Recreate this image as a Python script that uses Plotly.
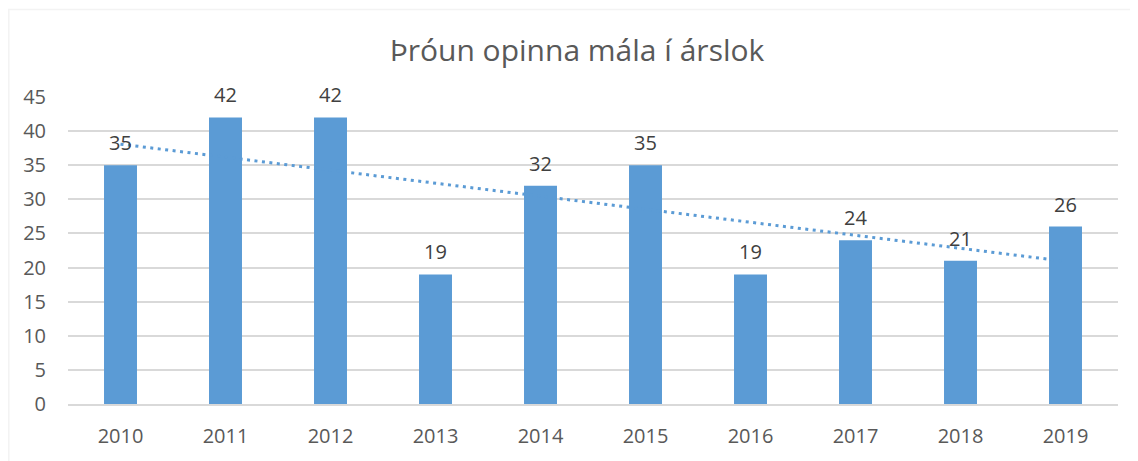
import numpy as np
import plotly.graph_objects as go

years = ['2010', '2011', '2012', '2013', '2014', '2015', '2016', '2017', '2018', '2019']
open_cases = [35, 42, 42, 19, 32, 35, 19, 24, 21, 26]
y_ticks = [0, 5, 10, 15, 20, 25, 30, 35, 40, 45]

blue = '#5b9bd5'
grid = '#d9d9d9'
font_family = "'Open Sans', sans-serif"

# linuleg leitni (trendline) eins og í Excel
idx = np.arange(len(years))
slope, intercept = np.polyfit(idx, open_cases, 1)
trend = slope * idx + intercept

fig = go.Figure([
    go.Bar(
        x=years,
        y=open_cases,
        marker=dict(color=blue, line=dict(width=0)),
        hoverinfo='none',
    ),
    go.Scatter(
        x=years,
        y=trend,
        mode='lines',
        line=dict(color=blue, width=3, dash='3px,4.5px'),
        hoverinfo='none',
    ),
])

# gildismerki yfir súlunum (x = staðsetning flokks)
for i, val in enumerate(open_cases):
    fig.add_annotation(
        x=i, y=val,
        text=str(val),
        showarrow=False,
        yanchor='bottom',
        yshift=7,
        font=dict(size=20, color='#404040', family=font_family),
    )

# rammi utan um myndina
fig.add_shape(
    type='rect', xref='paper', yref='paper',
    x0=-0.0564, x1=1.3, y0=-0.5, y1=1.285,
    line=dict(color=grid, width=1.5),
    fillcolor='rgba(0,0,0,0)',
    layer='below',
)

fig.update_layout(
    template='simple_white',
    showlegend=False,
    bargap=0.686,
    title=dict(
        text='Þróun opinna mála í árslok',
        x=569 / 1130, xref='container', xanchor='center',
        y=1 - 42 / 453, yanchor='middle',
        font=dict(size=30, color='#595959', family=font_family),
    ),
    font=dict(family=font_family, color='#595959'),
    margin=dict(t=89, b=52, l=60, r=20),
    width=1130,
    height=453,
    xaxis=dict(
        type='category',
        range=[-0.5, len(years) - 0.5],
        showline=True,
        linecolor=grid,
        linewidth=1.5,
        ticks='',
        tickfont=dict(size=20, color='#595959'),
        ticklabelstandoff=13,
    ),
    yaxis=dict(
        range=[0, 45],
        tickvals=y_ticks,
        showline=False,
        ticks='',
        showgrid=True,
        gridcolor=grid,
        gridwidth=1.5,
        zeroline=False,
        tickfont=dict(size=20, color='#595959'),
        ticklabelstandoff=21,
    ),
    dragmode=False,
)

fig.write_html('out.html')
